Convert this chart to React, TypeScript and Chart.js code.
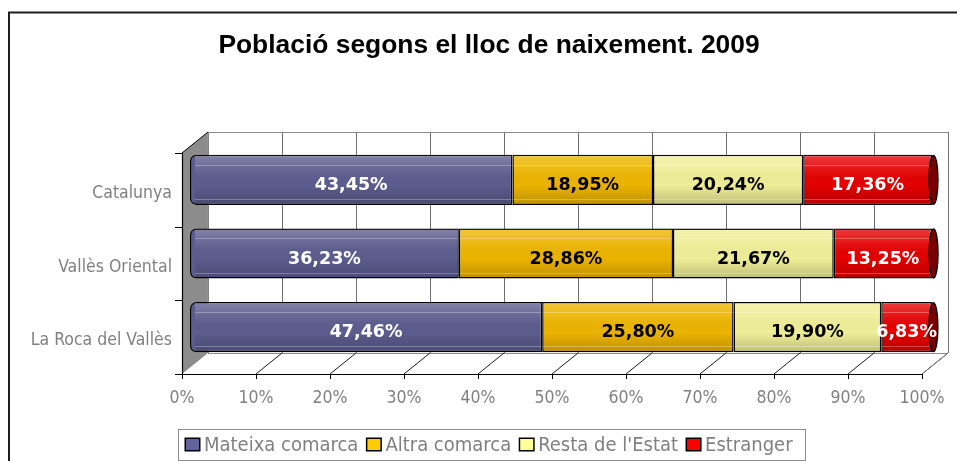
import { useEffect, useRef } from 'react';
import { Chart, registerables } from 'chart.js';

Chart.register(...registerables);

// ---- data ----
const chartTitle = 'Població segons el lloc de naixement. 2009';
const categories = ['Catalunya', 'Vallès Oriental', 'La Roca del Vallès'];
const seriesNames = ['Mateixa comarca', 'Altra comarca', "Resta de l'Estat", 'Estranger'];
const mateixaComarca = [43.45, 36.23, 47.46];
const altraComarca = [18.95, 28.86, 25.8];
const restaEstat = [20.24, 21.67, 19.9];
const estranger = [17.36, 13.25, 6.83];
const xTicks = [0, 10, 20, 30, 40, 50, 60, 70, 80, 90, 100];
const xTickLabels = ['0%', '10%', '20%', '30%', '40%', '50%', '60%', '70%', '80%', '90%', '100%'];

// ---- styles ----
const barColors = ['#5c5c8e', '#ecb400', '#eeee98', '#e40000'];
const legendColors = ['#63639b', '#ffcc00', '#ffff99', '#ff0000'];
const labelColors = ['#ffffff', '#000000', '#000000', '#ffffff'];
const capColor = '#7a0000';
const grayText = '#808080';
const condensed = '"DejaVu Sans Condensed", "DejaVu Sans", sans-serif';

const fmt = (v: number) => v.toFixed(2).replace('.', ',') + '%';

const framePlugin = {
  id: 'frame3d',
  beforeDraw(chart: any) {
    const ctx: CanvasRenderingContext2D = chart.ctx;
    const ca = chart.chartArea;
    const xs = chart.scales.x;
    const ys = chart.scales.y;
    const W = chart.width;
    const H = chart.height;
    ctx.save();
    ctx.fillStyle = '#ffffff';
    ctx.fillRect(0, 0, W, H);

    // outer border
    ctx.strokeStyle = '#1e1e1e';
    ctx.lineWidth = 2;
    ctx.strokeRect(9, 12.5, W + 50, H + 50);

    // title
    ctx.fillStyle = '#000000';
    ctx.font = 'bold 26.4px "Liberation Sans", Arial, sans-serif';
    ctx.textAlign = 'center';
    ctx.textBaseline = 'alphabetic';
    ctx.fillText(chartTitle, 489, 53);

    // geometry of the 3D frame
    const fx = (v: number) => xs.getPixelForValue(v) - 8 - (2 * v) / 100;
    const fTop = ca.top + 10;
    const fBot = ca.bottom + 10;
    const DX = 26;
    const DY = -21;
    const fL = fx(0);
    const fR = fx(100);

    // back wall gridlines
    ctx.lineWidth = 1;
    ctx.strokeStyle = '#6e6e6e';
    for (const v of xTicks) {
      const bx = Math.round(fx(v) + DX) + 0.5;
      ctx.beginPath();
      ctx.moveTo(bx, fTop + DY);
      ctx.lineTo(bx, fBot + DY);
      ctx.stroke();
    }
    // back wall top & bottom edge
    ctx.strokeStyle = '#8a8a8a';
    ctx.beginPath();
    ctx.moveTo(fL + DX, Math.round(fTop + DY) + 0.5);
    ctx.lineTo(fR + DX, Math.round(fTop + DY) + 0.5);
    ctx.moveTo(fL + DX, Math.round(fBot + DY) + 0.5);
    ctx.lineTo(fR + DX, Math.round(fBot + DY) + 0.5);
    ctx.stroke();

    // left side wall
    ctx.fillStyle = '#8c8c8c';
    ctx.beginPath();
    ctx.moveTo(fL, fTop);
    ctx.lineTo(fL + DX, fTop + DY);
    ctx.lineTo(fL + DX, fBot + DY);
    ctx.lineTo(fL, fBot);
    ctx.closePath();
    ctx.fill();
    ctx.strokeStyle = '#9a9a9a';
    ctx.beginPath();
    ctx.moveTo(fL + DX, fTop + DY);
    ctx.lineTo(fL + DX, fBot + DY);
    ctx.stroke();
    ctx.strokeStyle = '#000000';
    ctx.beginPath();
    ctx.moveTo(fL, fTop);
    ctx.lineTo(fL + DX, fTop + DY);
    ctx.stroke();

    // floor diagonals
    ctx.strokeStyle = '#1a1a1a';
    for (const v of xTicks) {
      if (v === 0) continue;
      ctx.beginPath();
      ctx.moveTo(fx(v), fBot);
      ctx.lineTo(fx(v) + DX, fBot + DY);
      ctx.stroke();
    }
    ctx.strokeStyle = '#8a8a8a';
    ctx.beginPath();
    ctx.moveTo(fR, fBot);
    ctx.lineTo(fR + DX, fBot + DY);
    ctx.stroke();

    // front axes
    ctx.strokeStyle = '#000000';
    ctx.lineWidth = 1.2;
    ctx.beginPath();
    ctx.moveTo(Math.round(fL) + 0.5, fTop);
    ctx.lineTo(Math.round(fL) + 0.5, fBot);
    ctx.moveTo(fL - 6, Math.round(fBot) + 0.5);
    ctx.lineTo(fR, Math.round(fBot) + 0.5);
    ctx.stroke();
    ctx.lineWidth = 1;
    // y ticks at category boundaries
    const step = (fBot - fTop) / categories.length;
    for (let i = 0; i <= categories.length; i++) {
      const yy = Math.round(fTop + i * step) + 0.5;
      ctx.beginPath();
      ctx.moveTo(fL - 7, yy);
      ctx.lineTo(fL, yy);
      ctx.stroke();
    }
    // x ticks
    for (const v of xTicks) {
      const xx = Math.round(fx(v)) + 0.5;
      ctx.beginPath();
      ctx.moveTo(xx, fBot);
      ctx.lineTo(xx, fBot + 5);
      ctx.stroke();
    }

    // tick labels
    ctx.fillStyle = grayText;
    ctx.font = `17.5px ${condensed}`;
    ctx.textAlign = 'center';
    ctx.textBaseline = 'alphabetic';
    xTicks.forEach((v, i) => {
      ctx.fillText(xTickLabels[i], fx(v), fBot + 29);
    });
    ctx.textAlign = 'right';
    categories.forEach((c, i) => {
      ctx.fillText(c, fL - 10, ys.getPixelForValue(i) + 18);
    });

    // legend
    ctx.font = `20px ${condensed}`;
    const sw = 15;
    const gap1 = 4;
    const gap2 = 8;
    const widths = seriesNames.map((n) => ctx.measureText(n).width);
    const inner = widths.reduce((s, w) => s + sw + gap1 + w, 0) + gap2 * (seriesNames.length - 1);
    const boxW = inner + 7 + 12;
    const boxL = Math.round(491 - boxW / 2);
    const boxT = 429;
    ctx.strokeStyle = '#8a8a8a';
    ctx.lineWidth = 1;
    ctx.strokeRect(boxL + 0.5, boxT + 0.5, Math.round(boxW), 31);
    let lx = boxL + 7;
    ctx.textAlign = 'left';
    seriesNames.forEach((n, i) => {
      ctx.fillStyle = legendColors[i];
      ctx.fillRect(lx, 438, sw, 13);
      ctx.strokeStyle = '#000000';
      ctx.lineWidth = 1.5;
      ctx.strokeRect(lx + 0.25, 438.25, sw - 0.5, 12.5);
      ctx.fillStyle = grayText;
      ctx.fillText(n, lx + sw + gap1, 451);
      lx += sw + gap1 + widths[i] + gap2;
    });
    ctx.restore();
  },
  afterDatasetsDraw(chart: any) {
    const ctx: CanvasRenderingContext2D = chart.ctx;
    const n = chart.data.datasets.length;
    ctx.save();
    for (let d = 0; d < n; d++) {
      const meta = chart.getDatasetMeta(d);
      meta.data.forEach((el: any) => {
        const p = el.getProps(['x', 'y', 'base', 'height'], true);
        const left = Math.min(p.x, p.base);
        const right = Math.max(p.x, p.base);
        const top = p.y - p.height / 2;
        const bot = p.y + p.height / 2;
        // cylinder shading
        const g = ctx.createLinearGradient(0, top, 0, bot);
        g.addColorStop(0, 'rgba(255,255,255,0.24)');
        g.addColorStop(0.3, 'rgba(255,255,255,0.07)');
        g.addColorStop(0.6, 'rgba(0,0,0,0)');
        g.addColorStop(1, 'rgba(0,0,0,0.2)');
        ctx.fillStyle = g;
        const il = left + (d === 0 ? 5 : 1);
        ctx.fillRect(il, top + 1, right - 1 - il, p.height - 2);
        ctx.strokeStyle = 'rgba(255,255,255,0.28)';
        ctx.lineWidth = 1;
        ctx.beginPath();
        ctx.moveTo(il, Math.round(top + 10) + 0.5);
        ctx.lineTo(right - 1, Math.round(top + 10) + 0.5);
        ctx.moveTo(il, Math.round(bot - 6) + 0.5);
        ctx.lineTo(right - 1, Math.round(bot - 6) + 0.5);
        ctx.stroke();
        // end cap on the last series
        if (d === n - 1) {
          ctx.fillStyle = capColor;
          ctx.strokeStyle = '#000000';
          ctx.lineWidth = 1.3;
          ctx.beginPath();
          ctx.ellipse(right + 1.5, p.y, 4.5, p.height / 2 - 0.5, 0, 0, Math.PI * 2);
          ctx.fill();
          ctx.stroke();
        }
      });
    }
    // value labels
    ctx.font = 'bold 17.5px "DejaVu Sans", sans-serif';
    ctx.textAlign = 'center';
    ctx.textBaseline = 'alphabetic';
    for (let d = 0; d < n; d++) {
      const meta = chart.getDatasetMeta(d);
      const vals = chart.data.datasets[d].data as number[];
      meta.data.forEach((el: any, i: number) => {
        const p = el.getProps(['x', 'y', 'base'], true);
        ctx.fillStyle = labelColors[d];
        ctx.fillText(fmt(vals[i]), (p.x + p.base) / 2, p.y + 10);
      });
    }
    ctx.restore();
  },
};

export default function App() {
  const ref = useRef<HTMLCanvasElement | null>(null);
  useEffect(() => {
    if (!ref.current) return;
    const series = [mateixaComarca, altraComarca, restaEstat, estranger];
    const chart = new Chart(ref.current, {
      type: 'bar',
      data: {
        labels: categories,
        datasets: seriesNames.map((name, i) => ({
          label: name,
          data: series[i],
          backgroundColor: barColors[i],
          borderColor: '#000000',
          borderWidth: 1.5,
          borderSkipped: false,
          borderRadius:
            i === 0 ? { topLeft: 6, bottomLeft: 6, topRight: 0, bottomRight: 0 } : 0,
          barPercentage: 0.68,
          categoryPercentage: 1,
        })),
      },
      options: {
        indexAxis: 'y',
        responsive: false,
        animation: false,
        devicePixelRatio: 1,
        layout: { padding: { left: 190, right: 25, top: 143, bottom: 97 } },
        scales: {
          x: { stacked: true, min: 0, max: 100, display: false },
          y: { stacked: true, display: false },
        },
        plugins: {
          legend: { display: false },
          title: { display: false },
          tooltip: { enabled: false },
        },
      },
      plugins: [framePlugin],
    } as any);
    return () => chart.destroy();
  }, []);
  return (
    <div style={{ position: 'absolute', left: 0, top: 0, width: 957, height: 461 }}>
      <canvas ref={ref} width={957} height={461} style={{ display: 'block' }} />
    </div>
  );
}
